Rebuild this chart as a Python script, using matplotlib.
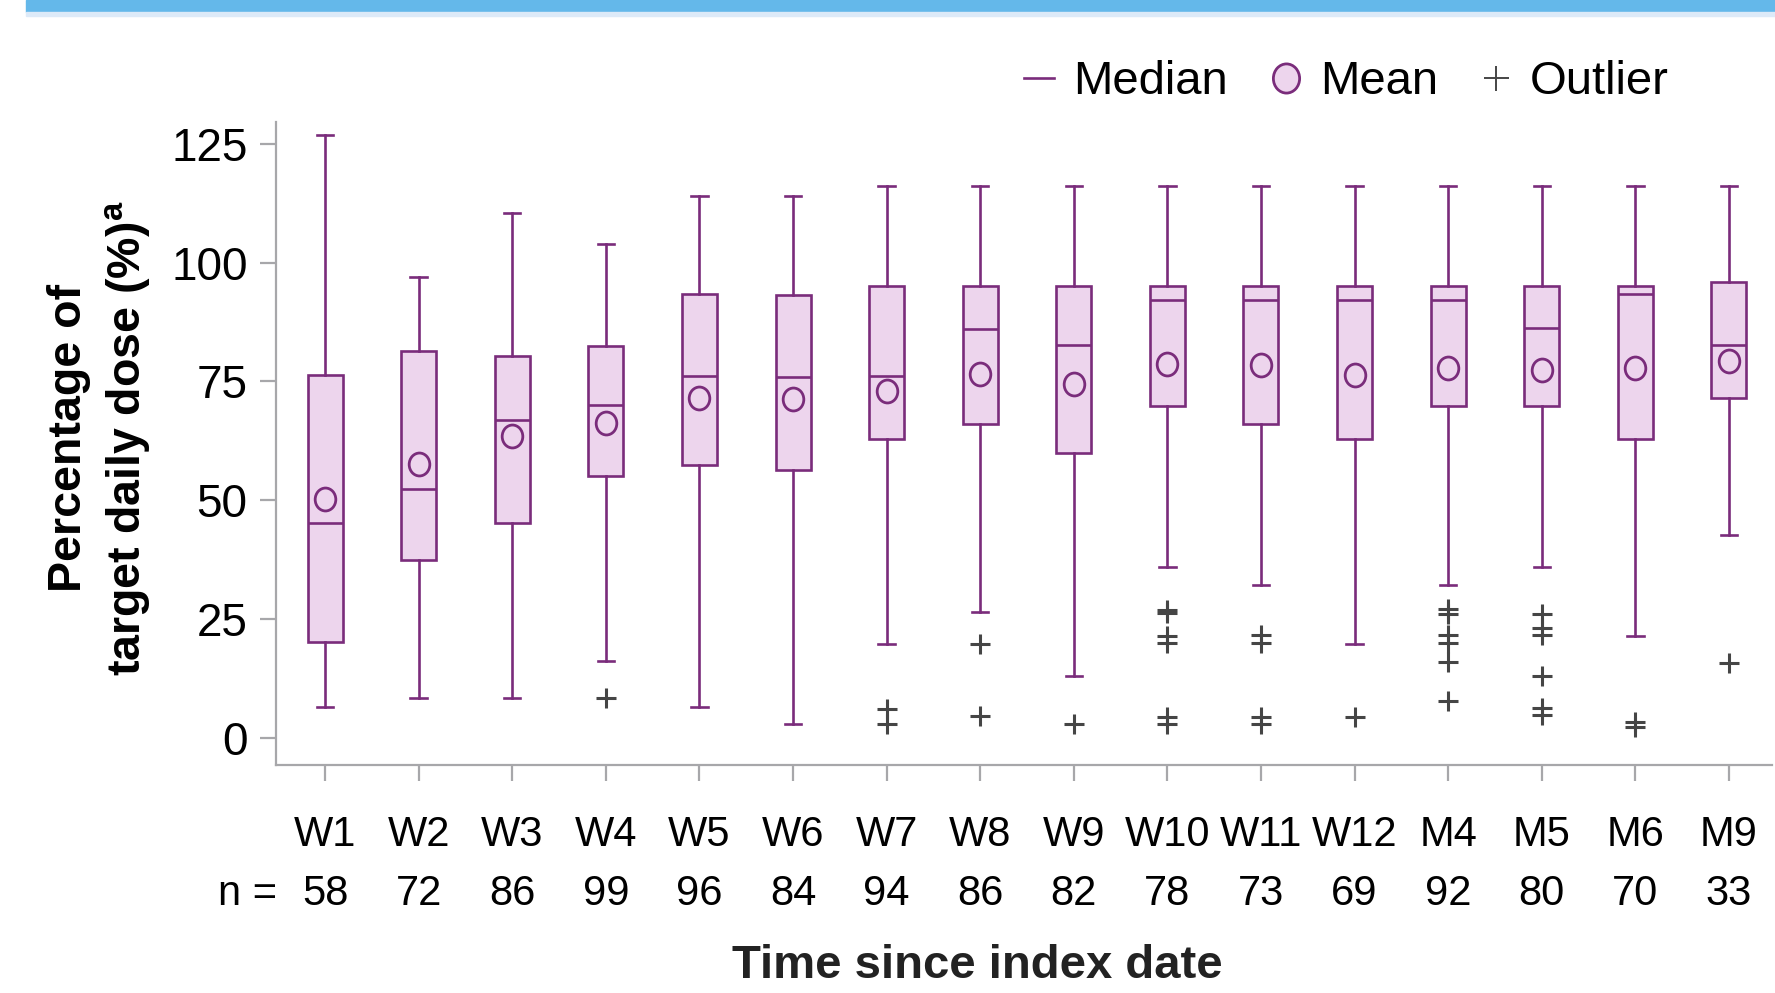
import matplotlib
matplotlib.use("Agg")
import matplotlib.pyplot as plt
from matplotlib.lines import Line2D
from matplotlib.patches import Rectangle
from matplotlib.path import Path
import matplotlib.transforms as mtransforms

plt.rcParams['font.family'] = ['Liberation Sans', 'DejaVu Sans']
plt.rcParams['mathtext.fontset'] = 'custom'
plt.rcParams['mathtext.rm'] = 'Liberation Sans'
plt.rcParams['mathtext.bf'] = 'Liberation Sans:bold'

# ---------------- data ----------------
labels = ["W1", "W2", "W3", "W4", "W5", "W6", "W7", "W8", "W9", "W10",
          "W11", "W12", "M4", "M5", "M6", "M9"]
n_values = [58, 72, 86, 99, 96, 84, 94, 86, 82, 78, 73, 69, 92, 80, 70, 33]
whislo = [6.4, 8.5, 8.5, 16.1, 6.4, 2.9, 19.8, 26.4, 13.0, 35.9, 32.2, 19.8, 32.2, 35.9, 21.4, 42.8]
q1 = [20.1, 37.5, 45.2, 55.2, 57.5, 56.4, 63.0, 66.0, 60.0, 69.9, 66.1, 63.0, 69.9, 69.9, 63.0, 71.5]
med = [45.3, 52.3, 67.0, 70.1, 76.1, 76.0, 76.2, 86.1, 82.7, 92.1, 92.1, 92.1, 92.1, 86.2, 93.4, 82.6]
q3 = [76.3, 81.5, 80.3, 82.5, 93.4, 93.3, 95.1, 95.0, 95.0, 95.1, 95.1, 95.1, 95.1, 95.1, 95.1, 96.0]
whishi = [126.9, 97.0, 110.4, 104.0, 114.0, 114.0, 116.1, 116.1, 116.1, 116.1,
          116.1, 116.1, 116.1, 116.1, 116.1, 116.1]
means = [50.2, 57.7, 63.5, 66.3, 71.5, 71.3, 73.1, 76.6, 74.4, 78.6, 78.4, 76.3, 77.9, 77.5, 77.9, 79.3]
outliers = [
    [], [], [], [8.3], [], [],
    [6.0, 2.9],
    [19.8, 4.7],
    [2.9],
    [27.0, 26.3, 21.5, 20.0, 4.3, 2.9],
    [21.6, 20.0, 4.3, 2.9],
    [4.3],
    [27.1, 26.1, 21.6, 20.0, 16.0, 7.8],
    [26.1, 23.1, 21.6, 13.1, 6.3, 4.9],
    [3.4, 2.2],
    [15.8],
]
yticks = [0, 25, 50, 75, 100, 125]

# ---------------- style ----------------
PURPLE = '#7A2C7B'
FILL = '#EDD5ED'
GRAY_AX = '#A7A7AA'
OUT_C = '#454545'
LW = 1.9

# slightly tall ellipse marker for the means
ELLIPSE = Path.unit_circle().transformed(mtransforms.Affine2D().scale(0.9, 1.0))

W, H = 1775, 993
fig = plt.figure(figsize=(W / 100, H / 100), dpi=100)
ax = fig.add_axes([276 / W, 1 - 765 / H, (1772 - 276) / W, (765 - 122) / H])

stats = []
for i in range(len(labels)):
    stats.append(dict(label=labels[i], whislo=whislo[i], q1=q1[i], med=med[i],
                      q3=q3[i], whishi=whishi[i], mean=means[i], fliers=outliers[i]))

positions = list(range(len(labels)))
ax.bxp(stats, positions=positions, widths=0.374, capwidths=0.175,
       patch_artist=True, showmeans=True, meanline=False, showfliers=True,
       boxprops=dict(facecolor=FILL, edgecolor=PURPLE, linewidth=LW),
       whiskerprops=dict(color=PURPLE, linewidth=LW),
       capprops=dict(color=PURPLE, linewidth=LW),
       medianprops=dict(color=PURPLE, linewidth=LW),
       meanprops=dict(marker=ELLIPSE, markersize=16.5, markerfacecolor=FILL,
                      markeredgecolor=PURPLE, markeredgewidth=2.0),
       flierprops=dict(marker='+', markersize=14, markeredgecolor=OUT_C,
                       markeredgewidth=2.2, linestyle='none'))

ax.set_xlim(-0.524, 15.46)
ax.set_ylim(-5.7, 129.6)
ax.set_yticks(yticks)
ax.set_yticklabels([str(v) for v in yticks], fontsize=33)
ax.set_xticks(positions)
ax.set_xticklabels(labels, fontsize=30)

for s in ['top', 'right']:
    ax.spines[s].set_visible(False)
for s in ['left', 'bottom']:
    ax.spines[s].set_color(GRAY_AX)
    ax.spines[s].set_linewidth(1.6)
ax.tick_params(axis='both', colors=GRAY_AX, length=11.5, width=1.6, labelcolor='black')
ax.tick_params(axis='y', pad=9)
ax.tick_params(axis='x', pad=24.5)

# n = row
trans = mtransforms.blended_transform_factory(ax.transData, fig.transFigure)
for i, nv in enumerate(n_values):
    ax.text(i, 1 - 894 / H, str(nv), transform=trans, ha='center', va='center', fontsize=30)
fig.text(277 / W, 1 - 894 / H, "n =", ha='right', va='center', fontsize=30)

# axis labels
fig.text(100 / W, 1 - 438 / H, "Percentage of\ntarget daily dose (%)$^{\\mathbf{a}}$",
         rotation=90, ha='center', va='center', fontsize=33.5, fontweight='bold',
         multialignment='center', linespacing=1.3)
fig.text(977 / W, 1 - 966 / H, "Time since index date", ha='center', va='center',
         fontsize=34, fontweight='bold', color='#222222')

# legend
handles = [
    Line2D([], [], color=PURPLE, linewidth=LW),
    Line2D([], [], linestyle='none', marker=ELLIPSE, markersize=21, markerfacecolor=FILL,
           markeredgecolor=PURPLE, markeredgewidth=2.0),
    Line2D([], [], linestyle='none', marker='+', markersize=18, markeredgecolor=OUT_C,
           markeredgewidth=1.4),
]
fig.legend(handles, ["Median", "Mean", "Outlier"], loc='center right',
           bbox_to_anchor=(1669 / W, 1 - 82.5 / H), ncol=3, frameon=False,
           fontsize=34, handlelength=0.65, handletextpad=0.4, columnspacing=0.9,
           borderpad=0, borderaxespad=0)

# top decorative bar
fig.patches.append(Rectangle((26 / W, 1 - 12.3 / H), 1, 12.3 / H,
                             transform=fig.transFigure, color='#64B8EA', zorder=5))
fig.patches.append(Rectangle((26 / W, 1 - 15.7 / H), 1, 3.4 / H,
                             transform=fig.transFigure, color='#DDEAF8', zorder=5))

fig.savefig("out.png", dpi=100)
